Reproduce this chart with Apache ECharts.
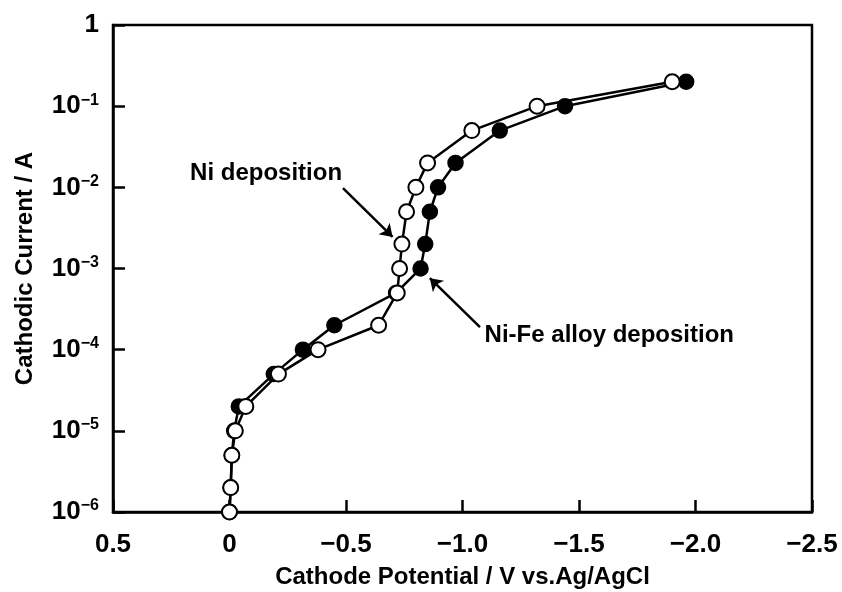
<!DOCTYPE html>
<html>
<head>
<meta charset="utf-8">
<script src="https://cdn.jsdelivr.net/npm/echarts@6/dist/echarts.min.js"></script>
<style>
  html, body { margin: 0; padding: 0; background: #fff; }
  #chart { width: 842px; height: 592px; }
</style>
</head>
<body>
<div id="chart"></div>
<script>
// Ni deposition (open circles)
const niPotential = [0, -0.005, -0.01, -0.025, -0.07, -0.21, -0.38, -0.64, -0.72, -0.73, -0.74, -0.76, -0.80, -0.85, -1.04, -1.32, -1.90];
const niCurrent   = [1e-6, 2e-6, 5e-6, 1e-5, 2e-5, 5e-5, 1e-4, 2e-4, 5e-4, 1e-3, 2e-3, 5e-3, 1e-2, 2e-2, 5e-2, 1e-1, 2e-1];

// Ni-Fe alloy deposition (filled circles)
const niFePotential = [0, -0.005, -0.01, -0.02, -0.04, -0.19, -0.315, -0.45, -0.715, -0.82, -0.84, -0.86, -0.895, -0.97, -1.16, -1.44, -1.96];
const niFeCurrent   = [1e-6, 2e-6, 5e-6, 1e-5, 2e-5, 5e-5, 1e-4, 2e-4, 5e-4, 1e-3, 2e-3, 5e-3, 1e-2, 2e-2, 5e-2, 1e-1, 2e-1];

const xTicks = [0.5, 0, -0.5, -1.0, -1.5, -2.0, -2.5];

// annotation labels and arrows (data coords)
const niLabel = { text: 'Ni deposition', at: [-0.157, 0.0148] };
const niArrow = [[-0.487, 9.8e-3], [-0.70, 2.45e-3]];
const niFeLabel = { text: 'Ni-Fe alloy deposition', at: [-1.63, 1.5e-4] };
const niFeArrow = [[-1.075, 1.9e-4], [-0.86, 7.6e-4]];

const FONT = '"Liberation Sans", Arial, sans-serif';

const zip = (xs, ys) => xs.map((x, i) => [x, ys[i]]);

const chart = echarts.init(document.getElementById('chart'));

chart.setOption({
  animation: false,
  grid: {
    left: 113, right: 30, top: 25, bottom: 80,
    outerBoundsMode: 'none',
    show: true, borderColor: '#000', borderWidth: 2.5
  },
  xAxis: {
    type: 'value',
    min: -2.5, max: 0.5, interval: 0.5,
    inverse: true,
    name: 'Cathode Potential / V vs.Ag/AgCl',
    nameLocation: 'middle',
    nameGap: 53,
    nameTextStyle: { fontFamily: FONT, fontWeight: 'bold', fontSize: 24, color: '#000' },
    axisLine: { onZero: false, lineStyle: { color: '#000', width: 2.5 } },
    axisTick: { inside: true, length: 12, lineStyle: { color: '#000', width: 2.5 } },
    axisLabel: {
      margin: 20,
      fontFamily: FONT, fontWeight: 'bold', fontSize: 26, color: '#000',
      formatter: v => {
        if (!xTicks.includes(v)) return '';
        if (v === 0) return '0';
        return (v < 0 ? '\u2212' : '') + Math.abs(v).toFixed(1);
      }
    },
    splitLine: { show: false }
  },
  yAxis: {
    type: 'log',
    logBase: 10,
    min: 1e-6, max: 1,
    name: 'Cathodic Current / A',
    nameLocation: 'middle',
    nameGap: 76,
    nameTextStyle: { fontFamily: FONT, fontWeight: 'bold', fontSize: 24, color: '#000' },
    axisLine: { onZero: false, lineStyle: { color: '#000', width: 2.5 } },
    axisTick: { inside: true, length: 12, lineStyle: { color: '#000', width: 2.5 } },
    minorTick: { show: false },
    axisLabel: {
      margin: 14,
      color: '#000',
      formatter: v => {
        const e = Math.round(Math.log10(v));
        if (e === 0) return '{b|1}';
        return '{b|10}{s|\u2212' + Math.abs(e) + '}';
      },
      rich: {
        b: { fontFamily: FONT, fontWeight: 'bold', fontSize: 26, color: '#000' },
        s: { fontFamily: FONT, fontWeight: 'bold', fontSize: 16, color: '#000', padding: [0, 0, 12, 0] }
      }
    },
    splitLine: { show: false }
  },
  series: [
    {
      name: 'Ni-Fe alloy deposition',
      type: 'line',
      data: zip(niFePotential, niFeCurrent),
      symbol: 'circle',
      symbolSize: 15,
      z: 2,
      lineStyle: { color: '#000', width: 2.5 },
      itemStyle: { color: '#000', borderColor: '#000', borderWidth: 1.5 },
      markLine: {
        silent: true,
        symbol: ['none', 'arrow'],
        symbolSize: 12,
        label: { show: false },
        lineStyle: { color: '#000', width: 2.5, type: 'solid' },
        data: [[{ coord: niFeArrow[0] }, { coord: niFeArrow[1] }]]
      },
      markPoint: {
        silent: true,
        symbol: 'circle',
        symbolSize: 0,
        label: {
          show: true, position: 'inside',
          formatter: niFeLabel.text,
          fontFamily: FONT, fontWeight: 'bold', fontSize: 24, color: '#000'
        },
        data: [{ coord: niFeLabel.at }]
      }
    },
    {
      name: 'Ni deposition',
      type: 'line',
      data: zip(niPotential, niCurrent),
      symbol: 'circle',
      symbolSize: 15,
      z: 3,
      lineStyle: { color: '#000', width: 2.5 },
      itemStyle: { color: '#fff', borderColor: '#000', borderWidth: 2 },
      markLine: {
        silent: true,
        symbol: ['none', 'arrow'],
        symbolSize: 12,
        label: { show: false },
        lineStyle: { color: '#000', width: 2.5, type: 'solid' },
        data: [[{ coord: niArrow[0] }, { coord: niArrow[1] }]]
      },
      markPoint: {
        silent: true,
        symbol: 'circle',
        symbolSize: 0,
        label: {
          show: true, position: 'inside',
          formatter: niLabel.text,
          fontFamily: FONT, fontWeight: 'bold', fontSize: 24, color: '#000'
        },
        data: [{ coord: niLabel.at }]
      }
    }
  ]
});
</script>
</body>
</html>
